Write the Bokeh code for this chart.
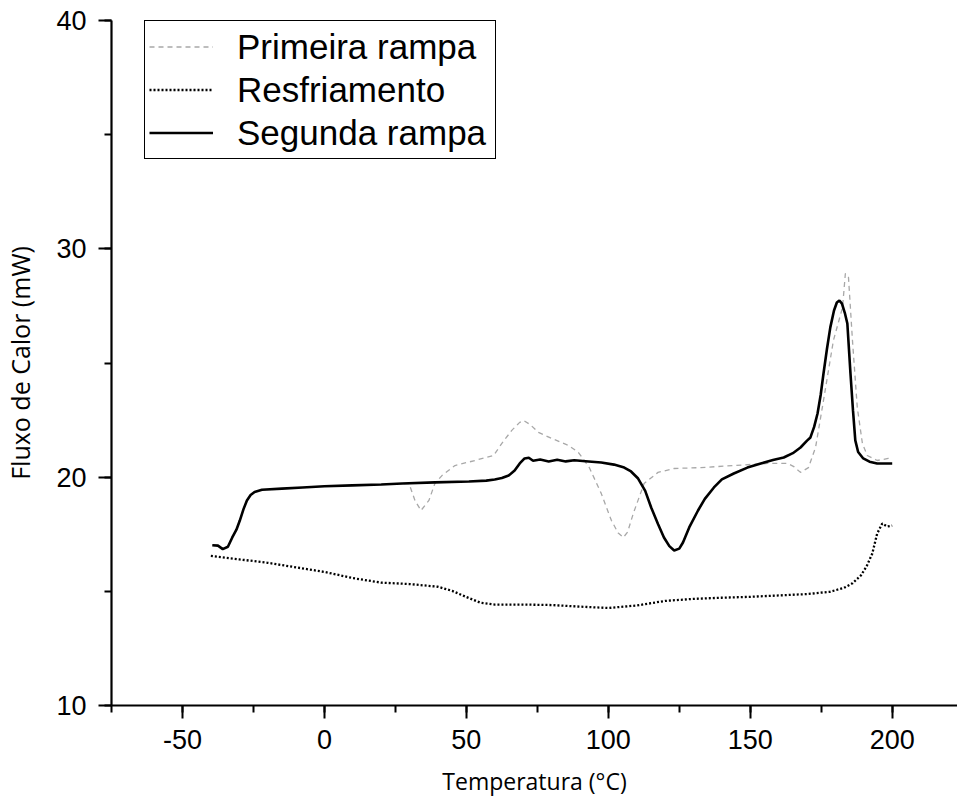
from bokeh.plotting import figure
from bokeh.models import SingleIntervalTicker, Range1d, Legend, LegendItem, PrintfTickFormatter
from bokeh.embed import file_html
from bokeh.resources import INLINE

# ---- data ----
labels = ["Primeira rampa", "Resfriamento", "Segunda rampa"]

t_primeira = [28, 29.8, 31.9, 34.0, 36.8, 38.9, 41.4, 46.0, 53.0, 59.6,
              62.5, 66.0, 68.8, 70.2, 72.5, 75.4, 80, 86.0, 89.5, 93.3,
              97.5, 101.1, 103.5, 105.3, 106.8, 108.8, 112.6, 117.5, 123.2, 132.6,
              144.2, 156.1, 163.2, 165.5, 167.7, 170.5, 173.0, 175.8, 179.3, 182.5,
              183.5, 184.6, 186.0, 187.7, 189.5, 191.2, 194.7, 198.6, 200]
q_primeira = [19.72, 19.72, 18.98, 18.54, 18.98, 19.72, 20.07, 20.51, 20.73, 20.95,
              21.48, 22.05, 22.4, 22.48, 22.3, 21.96, 21.7, 21.39, 21.08, 20.42,
              19.29, 18.10, 17.55, 17.36, 17.6, 18.41, 19.72, 20.21, 20.38, 20.42,
              20.51, 20.60, 20.60, 20.45, 20.21, 20.42, 21.30, 23.36, 25.99, 27.43,
              28.92, 28.75, 25.99, 23.05, 21.48, 20.95, 20.73, 20.82, 20.82]

t_resfr = [-40, -30, -20, -10, 0, 10, 20, 30, 40, 45,
           50, 55, 60, 70, 80, 90, 100, 110, 120, 130,
           140, 150, 160, 170, 178, 183, 186, 189, 191, 193,
           194.7, 196.5, 198.2, 200]
q_resfr = [16.55, 16.4, 16.25, 16.05, 15.85, 15.58, 15.38, 15.32, 15.2, 15.02,
           14.75, 14.5, 14.42, 14.42, 14.4, 14.33, 14.27, 14.38, 14.58, 14.67,
           14.72, 14.76, 14.82, 14.88, 14.98, 15.15, 15.35, 15.7, 16.1, 16.66,
           17.53, 17.97, 17.84, 17.88]

t_segunda = [-39.5, -37.5, -35.8, -34, -32.5, -31, -29.8, -28.5, -27.3, -26,
             -24.6, -22, -15, -7.7, 0, 9.8, 20, 27.4, 38.9, 50.9,
             57, 60.0, 62.5, 64.9, 67.0, 68.8, 70.5, 72, 73.5, 76,
             79, 82, 85, 88, 92, 97.5, 102, 105.6, 108, 110.5,
             113, 115.1, 117.5, 119.6, 121.5, 123.2, 125, 126.3, 128.5, 131.6,
             134, 137.2, 140, 144.2, 149, 153.7, 158, 161.8, 165, 167.7,
             170, 171.2, 172.5, 173.7, 174.8, 175.8, 177, 178.2, 179.5, 180.5,
             181.4, 182.3, 183.3, 184.2, 185.3, 186.2, 187.0, 188, 189.8, 192,
             194.7, 198.6, 200]
q_segunda = [17.02, 17.0, 16.85, 16.95, 17.35, 17.7, 18.10, 18.6, 18.98, 19.22,
             19.35, 19.45, 19.5, 19.55, 19.6, 19.64, 19.68, 19.72, 19.77, 19.81,
             19.85, 19.9, 19.96, 20.07, 20.29, 20.6, 20.82, 20.85, 20.72, 20.77,
             20.69, 20.76, 20.69, 20.74, 20.7, 20.64, 20.55, 20.42, 20.25, 19.94,
             19.4, 18.67, 17.95, 17.36, 16.98, 16.79, 16.87, 17.14, 17.8, 18.54,
             19.05, 19.55, 19.9, 20.16, 20.42, 20.6, 20.75, 20.86, 21.05, 21.3,
             21.6, 21.74, 22.2, 22.79, 23.6, 24.54, 25.6, 26.56, 27.3, 27.65,
             27.74, 27.6, 27.2, 26.73, 24.54, 22.9, 21.61, 21.1, 20.82, 20.68,
             20.6, 20.6, 20.6]

x_label = "Temperatura (°C)"
y_label = "Fluxo de Calor (mW)"

# ---- figure ----
p = figure(width=957, height=805, output_backend="svg", toolbar_location=None,
           x_range=Range1d(-75, 223), y_range=Range1d(10, 40),
           min_border_left=110, min_border_right=0, min_border_top=20,
           min_border_bottom=100)
p.outline_line_color = None
p.xgrid.visible = False
p.ygrid.visible = False
p.background_fill_color = "white"
p.border_fill_color = "white"

r1 = p.line(t_primeira, q_primeira, line_color="#a8a8a8", line_width=1.3,
            line_dash="5 4")
r2 = p.line(t_resfr, q_resfr, line_color="black", line_width=2.3,
            line_dash="2 2")
r3 = p.line(t_segunda, q_segunda, line_color="black", line_width=2.6)

p.xaxis.ticker = SingleIntervalTicker(interval=50, num_minor_ticks=2)
p.yaxis.ticker = SingleIntervalTicker(interval=10, num_minor_ticks=2)
p.xaxis.formatter = PrintfTickFormatter(format="%d")
p.yaxis.formatter = PrintfTickFormatter(format="%d")

for ax in (p.xaxis[0], p.yaxis[0]):
    ax.axis_line_width = 2.2
    ax.axis_line_color = "black"
    ax.major_tick_line_width = 2
    ax.minor_tick_line_width = 2
    ax.major_tick_line_color = "black"
    ax.minor_tick_line_color = "black"
    ax.major_tick_out = 13
    ax.major_tick_in = 0
    ax.minor_tick_out = 7
    ax.minor_tick_in = 0
    ax.major_label_text_font = "Liberation Sans"
    ax.major_label_text_font_size = "27px"
    ax.major_label_text_color = "black"
    ax.axis_label_text_font = "Open Sans"
    ax.axis_label_text_font_style = "normal"
    ax.axis_label_text_color = "black"

p.xaxis.axis_label = x_label
p.yaxis.axis_label = y_label
p.xaxis.axis_label_text_font_size = "23px"
p.yaxis.axis_label_text_font_size = "25px"
p.xaxis.major_label_standoff = 11
p.yaxis.major_label_standoff = 12
p.xaxis.axis_label_standoff = 13
p.yaxis.axis_label_standoff = 16

legend = Legend(items=[LegendItem(label=labels[0], renderers=[r1]),
                       LegendItem(label=labels[1], renderers=[r2]),
                       LegendItem(label=labels[2], renderers=[r3])],
                location=(33, 546))
legend.label_text_font = "Liberation Sans"
legend.label_text_font_size = "35px"
legend.label_text_color = "black"
legend.label_height = 43
legend.label_width = 254
legend.glyph_height = 43
legend.glyph_width = 64
legend.label_standoff = 24
legend.spacing = 0
legend.padding = 4
legend.margin = 0
legend.border_line_color = "black"
legend.border_line_alpha = 1
legend.border_line_width = 1.8
legend.background_fill_color = "white"
legend.background_fill_alpha = 1
p.add_layout(legend, "center")

open("out.html", "w").write(file_html(p, INLINE))
